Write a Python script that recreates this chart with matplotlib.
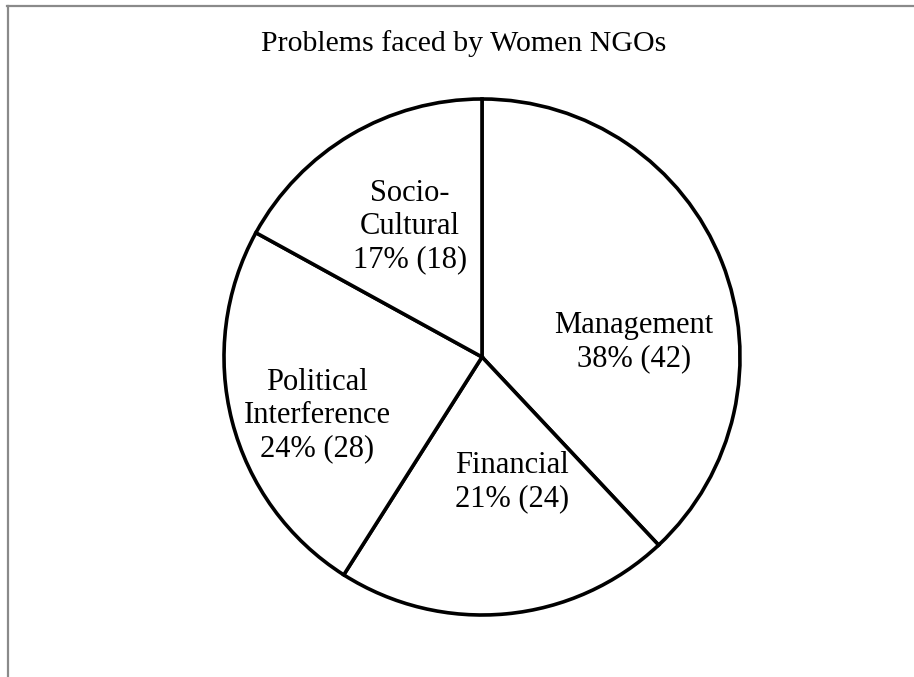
import matplotlib
matplotlib.use("Agg")
import matplotlib.pyplot as plt
from matplotlib.lines import Line2D

title = "Problems faced by Women NGOs"
categories = ["Management", "Financial", "Political\nInterference", "Socio-\nCultural"]
percents = [38, 21, 24, 17]
counts = [42, 24, 28, 18]

# label positions (in pie-radius units), layout only
label_pos = [(0.589, 0.058), (0.116, -0.485), (-0.640, -0.228), (-0.279, 0.505)]

plt.rcParams['font.family'] = ['Liberation Serif', 'DejaVu Serif']

W, H = 914, 677
fig = plt.figure(figsize=(W / 100, H / 100), dpi=100)
fig.patch.set_facecolor('white')

cx, cy, r = 482, 357, 258
ax = fig.add_axes([(cx - r) / W, (H - cy - r) / H, 2 * r / W, 2 * r / H])
ax.pie(percents, startangle=90, counterclock=False,
       colors=['white'] * len(percents),
       wedgeprops=dict(edgecolor='black', linewidth=2.6))
ax.set_xlim(-1, 1)
ax.set_ylim(-1, 1)
ax.set_aspect('equal')
ax.axis('off')

for cat, p, c, (x, y) in zip(categories, percents, counts, label_pos):
    ax.text(x, y, f"{cat}\n{p}% ({c})", ha='center', va='center',
            fontsize=22, linespacing=1.18)

fig.text(464 / W, 1 - 44 / H, title, ha='center', va='center', fontsize=21.5)

# frame lines (top and left)
gray = '#8a8a8a'
fig.add_artist(Line2D([7 / W, 1], [1 - 6 / H, 1 - 6 / H], color=gray, linewidth=1.6,
                      transform=fig.transFigure))
fig.add_artist(Line2D([8 / W, 8 / W], [0, 1 - 6 / H], color=gray, linewidth=1.6,
                      transform=fig.transFigure))

fig.savefig("out.png", dpi=100, facecolor='white')
